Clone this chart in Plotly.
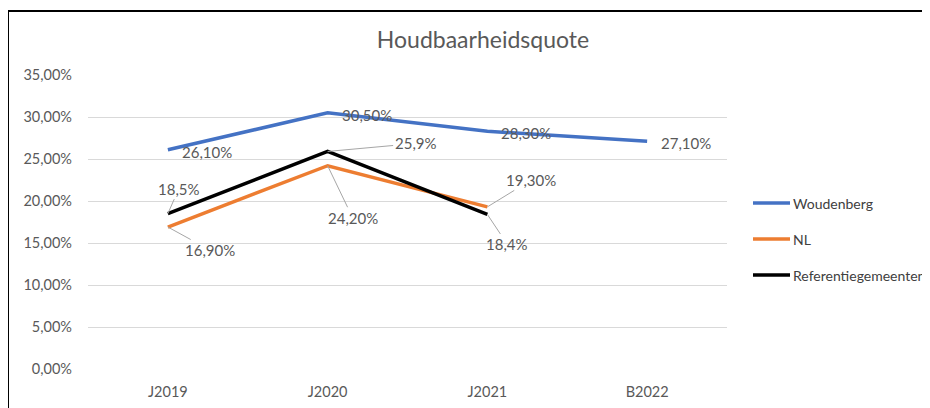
import plotly.graph_objects as go

categories = ["J2019", "J2020", "J2021", "B2022"]
woudenberg = [26.1, 30.5, 28.3, 27.1]
nl = [16.9, 24.2, 19.3, None]
referentie = [18.5, 25.9, 18.4, None]

series_names = ["Woudenberg", "NL", "Referentiegemeenten"]
series_colors = ["#4472C4", "#ED7D31", "#000000"]

wb_labels = ["26,10%", "30,50%", "28,30%", "27,10%"]
nl_labels = ["16,90%", "24,20%", "19,30%"]
ref_labels = ["18,5%", "25,9%", "18,4%"]

y_ticks = [0, 5, 10, 15, 20, 25, 30, 35]
y_ticktext = ["0,00%", "5,00%", "10,00%", "15,00%", "20,00%", "25,00%", "30,00%", "35,00%"]

FONT = "Lato, 'Open Sans', sans-serif"
GREY = "#595959"

W, H = 922, 400
L, R, T, B = 80, 203, 67, 39
PW, PH = W - L - R, H - T - B


def px_x(fx):
    return (fx - L) / PW


def px_y(fy):
    return (T + PH - fy) / PH


fig = go.Figure()
for vals, name, col in zip([woudenberg, nl, referentie], series_names, series_colors):
    fig.add_trace(go.Scatter(x=categories, y=vals, mode="lines", name=name,
                             line=dict(color=col, width=3.5), hoverinfo="skip", showlegend=False))

LBL = dict(size=15, color=GREY, family=FONT)
annotations = []
for c, v, t in zip(categories, woudenberg, wb_labels):
    annotations.append(dict(x=c, y=v, text=t, showarrow=False, xanchor="left", yanchor="middle",
                            xshift=12, yshift=-2, font=LBL))

nl_offsets = [(42, 23), (25, 52), (44, -27)]
ref_offsets = [(11, -25), (88, -8), (20, 30)]
for c, v, t, (ax, ay) in zip(categories, nl, nl_labels, nl_offsets):
    annotations.append(dict(x=c, y=v, text=t, showarrow=True, arrowhead=0, arrowwidth=1,
                            arrowcolor="#A6A6A6", ax=ax, ay=ay, standoff=0, font=LBL))
for c, v, t, (ax, ay) in zip(categories, referentie, ref_labels, ref_offsets):
    annotations.append(dict(x=c, y=v, text=t, showarrow=True, arrowhead=0, arrowwidth=1,
                            arrowcolor="#A6A6A6", ax=ax, ay=ay, standoff=0, font=LBL))

# legend drawn manually
shapes = []
for i, (name, col) in enumerate(zip(series_names, series_colors)):
    fy = 195 + 36 * i
    shapes.append(dict(type="line", xref="paper", yref="paper", x0=px_x(745), x1=px_x(782),
                       y0=px_y(fy), y1=px_y(fy), line=dict(color=col, width=3.5)))
    annotations.append(dict(xref="paper", yref="paper", x=px_x(783), y=px_y(fy), text=name,
                            showarrow=False, xanchor="left", yanchor="middle",
                            font=dict(size=14, color="#404040", family=FONT)))

fx0 = px_x(0)
fy1 = px_y(3)
shapes += [
    dict(type="line", xref="paper", yref="paper", x0=fx0, x1=fx0,
         y0=-0.3, y1=fy1, line=dict(color="#000000", width=2)),
    dict(type="line", xref="paper", yref="paper", x0=fx0, x1=2.0,
         y0=fy1, y1=fy1, line=dict(color="#000000", width=2)),
]

fig.update_layout(
    width=W, height=H,
    margin=dict(l=L, r=R, t=T, b=B, autoexpand=False),
    paper_bgcolor="white", plot_bgcolor="white",
    showlegend=False,
    title=dict(text="Houdbaarheidsquote", x=475 / W, xanchor="center", y=1 - 32 / H, yanchor="middle",
               font=dict(size=23, color=GREY, family=FONT)),
    xaxis=dict(type="category", range=[-0.5, 3.5], showgrid=False, showline=False, zeroline=False,
               ticks="", ticklabelstandoff=12, automargin=False,
               tickfont=dict(size=14.5, color=GREY, family=FONT), fixedrange=True),
    yaxis=dict(range=[0, 35], tickvals=y_ticks, ticktext=y_ticktext, showgrid=True,
               gridcolor="#D9D9D9", gridwidth=1, zeroline=False, showline=False, ticks="",
               ticklabelstandoff=15, automargin=False,
               tickfont=dict(size=14.5, color=GREY, family=FONT), fixedrange=True),
    annotations=annotations,
    shapes=shapes,
    hovermode=False,
)

fig.write_html("out.html")
